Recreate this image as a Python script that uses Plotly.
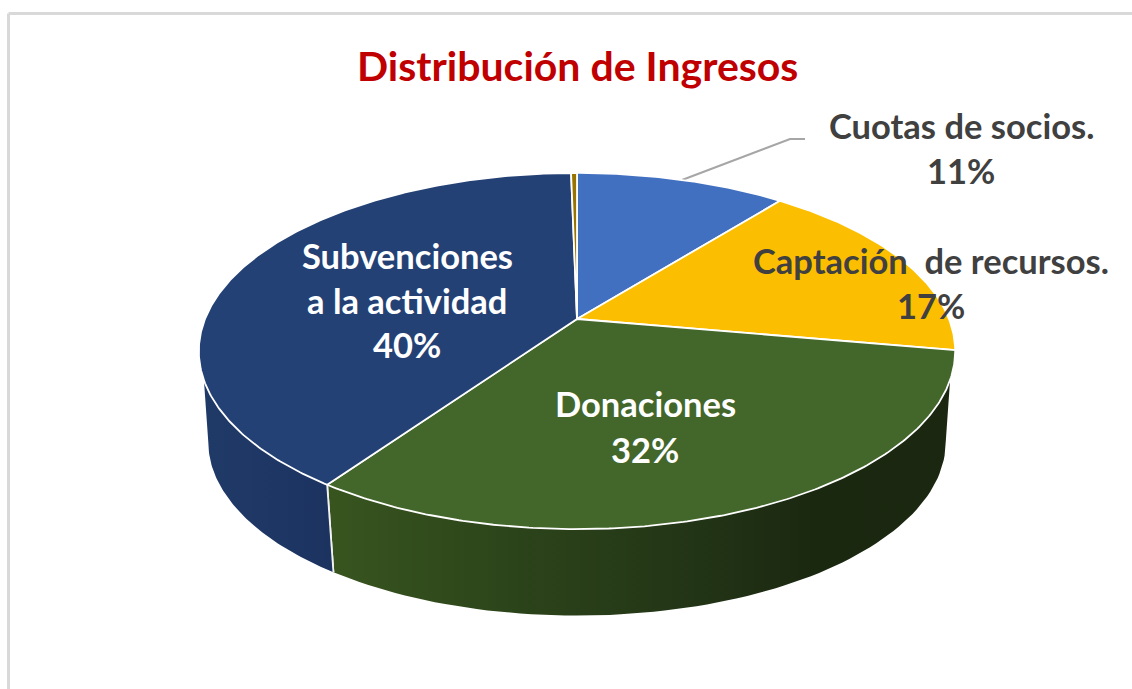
import numpy as np
import plotly.graph_objects as go

# Data
categories = ["Cuotas de socios.", "Captación  de recursos.", "Donaciones",
              "Subvenciones a la actividad", "Otros"]
values = [10.7, 17.1, 31.9, 40.0, 0.3]
label_pct = ["11%", "17%", "32%", "40%", None]
title_text = "Distribución de Ingresos"

# Styles
top_colors = ["#4270C0", "#FCBE00", "#43672B", "#244175", "#997300"]
wall_scales = {
    2: [[0, "#38551F"], [0.3, "#2C441A"], [0.6, "#223416"], [0.78, "#1B2810"], [1, "#1B2710"]],
    3: [[0, "#203A68"], [1, "#1C3360"]],
}
FONT = "Lato, Carlito, Calibri, sans-serif"

# Geometry of the perspective disc, in screen pixels
CX, AY, K, A, C = 577.0, 319.0, 372.0, -114.9, 0.18
VANISH_Y, DEPTH_S = 3986.0, 0.975
TOP_VIS = (109.5, 250.5)
BOT_VIS = (100.4, 259.6)


def rim(deg):
    t = np.radians(np.asarray(deg, dtype=float))
    u, v = np.sin(t), np.cos(t)
    d = 1 + C * v
    return CX + K * u / d, (A * v + AY) / d


def rim_bottom(deg):
    x, y = rim(deg)
    return CX + DEPTH_S * (x - CX), VANISH_Y + DEPTH_S * (y - VANISH_Y)


edges = np.concatenate([[0], np.cumsum(values)]) / np.sum(values) * 360.0
fig = go.Figure()

# Leader line
leader = dict(x=[682, 790, 805], y=[180, 139, 139])
fig.add_trace(go.Scatter(mode="lines", line=dict(color="#A6A6A6", width=2), hoverinfo="skip", **leader))

# Walls
for i, scale in wall_scales.items():
    a0, a1 = edges[i], edges[i + 1]
    tt = np.linspace(max(a0, TOP_VIS[0]), min(a1, TOP_VIS[1]), 80)
    tb = np.linspace(max(a0, BOT_VIS[0]), min(a1, BOT_VIS[1]), 80)
    xt, yt = rim(tt)
    xb, yb = rim_bottom(tb)
    fig.add_trace(go.Scatter(
        x=np.concatenate([xt, xb[::-1], xt[:1]]),
        y=np.concatenate([yt, yb[::-1], yt[:1]]),
        mode="lines", fill="toself",
        fillgradient=dict(type="horizontal", colorscale=scale),
        line=dict(color="rgba(0,0,0,0)", width=0), hoverinfo="skip"))
    # white seam where two walls meet
    for a in (a0, a1):
        if BOT_VIS[0] + 30 < a < BOT_VIS[1] - 30:
            xa, ya = rim(a)
            xc, yc = rim_bottom(a)
            fig.add_trace(go.Scatter(x=[xa, xc], y=[ya, yc], mode="lines",
                                     line=dict(color="#F2F2F2", width=1.8), hoverinfo="skip"))

# Top faces
for i, col in enumerate(top_colors):
    tt = np.linspace(edges[i], edges[i + 1], max(4, int(edges[i + 1] - edges[i]) * 2))
    xt, yt = rim(tt)
    fig.add_trace(go.Scatter(
        x=np.concatenate([[CX], xt, [CX]]), y=np.concatenate([[AY], yt, [AY]]),
        mode="lines", fill="toself", fillcolor=col,
        line=dict(color="#FFFFFF", width=1.8), hoverinfo="skip"))

# Text: one annotation per line, to keep the chart's wide line spacing
label_lines = {
    0: (["Cuotas de socios."], 961, [125, 170], "#404040"),
    1: (["Captación  de recursos."], 931, [260, 305], "#404040"),
    2: (["Donaciones"], 645, [403, 449], "#FFFFFF"),
    3: (["Subvenciones", "a la actividad"], 407, [255, 300, 344], "#FFFFFF"),
}
annotations = [dict(x=577, y=65, text=f"<b>{title_text}</b>", showarrow=False,
                    font=dict(family=FONT, size=41, color="#C00000"),
                    xanchor="center", yanchor="middle")]
for i, (lines, x, ys, col) in label_lines.items():
    for txt, y in zip(lines + [label_pct[i]], ys):
        annotations.append(dict(x=x, y=y, text=f"<b>{txt}</b>", showarrow=False,
                                font=dict(family=FONT, size=34.5, color=col),
                                xanchor="center", yanchor="middle"))

# Frame
shapes = [
    dict(type="line", x0=8.5, x1=1132, y0=13.5, y1=13.5, line=dict(color="#D9D9D9", width=3), layer="below"),
    dict(type="line", x0=8.5, x1=8.5, y0=13.5, y1=689, line=dict(color="#D9D9D9", width=3), layer="below"),
]

fig.update_layout(
    width=1132, height=689, autosize=False,
    margin=dict(l=0, r=0, t=0, b=0),
    paper_bgcolor="#FFFFFF", plot_bgcolor="#FFFFFF",
    showlegend=False,
    xaxis=dict(range=[0, 1132], visible=False, fixedrange=True),
    yaxis=dict(range=[689, 0], visible=False, fixedrange=True),
    annotations=annotations, shapes=shapes,
)
fig.write_html("out.html", post_script="document.body.style.margin='0';document.body.style.overflow='hidden';",
               config=dict(displayModeBar=False))
